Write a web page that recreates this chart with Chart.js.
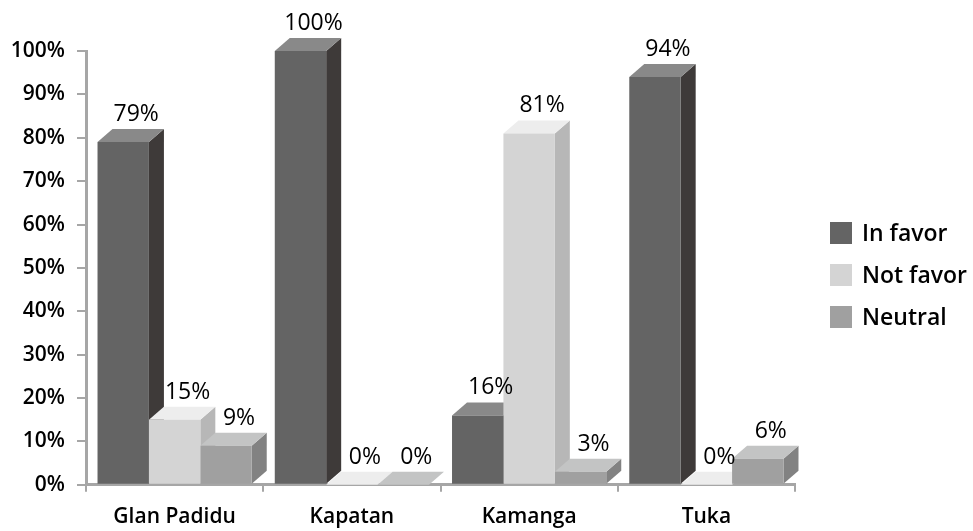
<!DOCTYPE html>
<html>
<head>
<meta charset="utf-8">
<title>Opinion by village</title>
<script src="https://cdn.jsdelivr.net/npm/chart.js@4.4.1/dist/chart.umd.min.js"></script>
<style>
  html, body { margin: 0; padding: 0; background: #fff; }
  #wrap { width: 973px; height: 531px; }
</style>
</head>
<body>
<div id="wrap"><canvas id="opinionChart" width="973" height="531"></canvas></div>
<script>
// villages and share of answers (percent)
const villages = ['Glan Padidu', 'Kapatan', 'Kamanga', 'Tuka'];
const inFavor = [79, 100, 16, 94];
const notFavor = [15, 0, 81, 0];
const neutral = [9, 0, 3, 6];
const seriesNames = ['In favor', 'Not favor', 'Neutral'];

// front / top / side shades for each series
const shades = [
  { front: '#646464', top: '#898989', side: '#3e3a39' },
  { front: '#d4d4d4', top: '#ededed', side: '#b7b7b7' },
  { front: '#a0a0a0', top: '#c3c4c4', side: '#828282' }
];

const DEPTH_X = 15;
const DEPTH_Y = 13;
const FONT = '"Open Sans", "DejaVu Sans", sans-serif';

// draws the side and top of each bar so the bars look like boxes
const boxFaces = {
  id: 'boxFaces',
  beforeDatasetsDraw(chart) {
    const ctx = chart.ctx;
    const metas = chart.data.datasets.map((d, i) => chart.getDatasetMeta(i));
    ctx.save();
    for (let j = 0; j < villages.length; j++) {
      metas.forEach((meta, i) => {
        const bar = meta.data[j];
        if (!bar) return;
        const p = bar.getProps(['x', 'y', 'base', 'width'], true);
        const l = p.x - p.width / 2;
        const r = p.x + p.width / 2;
        const top = Math.min(p.y, p.base);
        const base = p.base;
        // side
        ctx.fillStyle = shades[i].side;
        ctx.beginPath();
        ctx.moveTo(r, top);
        ctx.lineTo(r + DEPTH_X, top - DEPTH_Y);
        ctx.lineTo(r + DEPTH_X, base - DEPTH_Y);
        ctx.lineTo(r, base);
        ctx.closePath();
        ctx.fill();
        // top
        ctx.fillStyle = shades[i].top;
        ctx.beginPath();
        ctx.moveTo(l, top);
        ctx.lineTo(l + DEPTH_X, top - DEPTH_Y);
        ctx.lineTo(r + DEPTH_X, top - DEPTH_Y);
        ctx.lineTo(r, top);
        ctx.closePath();
        ctx.fill();
      });
    }
    ctx.restore();
  },
  afterDatasetsDraw(chart) {
    // value labels above every bar
    const ctx = chart.ctx;
    ctx.save();
    ctx.font = '400 23px ' + FONT;
    ctx.fillStyle = '#000';
    ctx.textAlign = 'center';
    ctx.textBaseline = 'alphabetic';
    chart.data.datasets.forEach((ds, i) => {
      chart.getDatasetMeta(i).data.forEach((bar, j) => {
        const p = bar.getProps(['x', 'y'], true);
        ctx.fillText(ds.data[j] + '%', p.x + 13, p.y - 21);
      });
    });
    ctx.restore();
  },
  afterDraw(chart) {
    // legend on the right
    const ctx = chart.ctx;
    ctx.save();
    ctx.font = '600 23px ' + FONT;
    ctx.textAlign = 'left';
    ctx.textBaseline = 'middle';
    chart.data.datasets.forEach((ds, i) => {
      const cy = 233 + i * 42;
      ctx.fillStyle = ds.backgroundColor;
      ctx.fillRect(830, cy - 11, 22, 22);
      ctx.fillStyle = '#000';
      ctx.fillText(ds.label, 862, cy + 1);
    });
    ctx.restore();
  }
};

const datasets = [inFavor, notFavor, neutral].map((values, i) => ({
  label: seriesNames[i],
  data: values,
  backgroundColor: shades[i].front,
  borderWidth: 0,
  categoryPercentage: 0.87,
  barPercentage: 1.0
}));

new Chart(document.getElementById('opinionChart'), {
  type: 'bar',
  data: { labels: villages, datasets: datasets },
  options: {
    responsive: false,
    animation: false,
    layout: { padding: { top: 51, right: 178, bottom: -12, left: 0 } },
    plugins: {
      legend: { display: false },
      tooltip: { enabled: false }
    },
    scales: {
      x: {
        grid: {
          offset: true,
          drawOnChartArea: false,
          drawTicks: true,
          tickLength: 7,
          color: '#a6a6a6',
          lineWidth: 2
        },
        border: { color: '#a6a6a6', width: 3 },
        ticks: {
          color: '#000',
          padding: 13,
          font: { family: FONT, size: 21, weight: '600' }
        }
      },
      y: {
        min: 0,
        max: 100,
        grid: {
          drawOnChartArea: false,
          drawTicks: true,
          tickLength: 9,
          color: '#a6a6a6',
          lineWidth: 2
        },
        border: { color: '#a6a6a6', width: 3 },
        ticks: {
          stepSize: 10,
          color: '#000',
          padding: 12,
          font: { family: FONT, size: 21, weight: '600' },
          callback: v => v + '%'
        },
        afterFit(scale) { scale.width = 86; }
      }
    }
  },
  plugins: [boxFaces]
});
</script>
</body>
</html>
